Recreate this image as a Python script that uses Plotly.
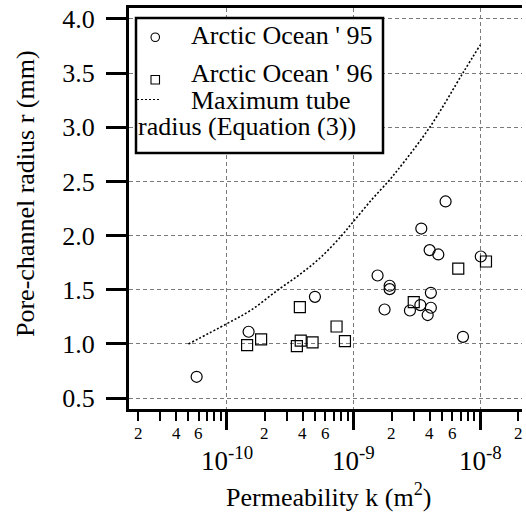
import plotly.graph_objects as go
import numpy as np

# Arctic Ocean '95 (circles)
k95 = [5.33e-9, 3.43e-9, 3.99e-9, 4.67e-9, 1.01e-8, 1.55e-9, 1.93e-9, 1.93e-9, 4.08e-9,
       4.97e-10, 1.76e-9, 2.79e-9, 3.37e-9, 4.08e-9, 3.85e-9, 7.31e-9, 1.49e-10, 5.8e-11]
r95 = [2.315, 2.065, 1.866, 1.826, 1.807, 1.632, 1.537, 1.506, 1.472,
       1.435, 1.318, 1.309, 1.359, 1.334, 1.267, 1.066, 1.113, 0.697]

# Arctic Ocean '96 (squares)
k96 = [1.45e-10, 1.87e-10, 3.58e-10, 3.84e-10, 3.78e-10, 4.76e-10, 7.36e-10, 8.57e-10,
       2.99e-9, 6.71e-9, 1.11e-8]
r96 = [0.990, 1.042, 0.981, 1.030, 1.340, 1.014, 1.161, 1.027, 1.387, 1.696, 1.761]

# Maximum tube radius (Equation (3))
kc = [5.0e-11, 1e-10, 1.57e-10, 2.55e-10, 3.9e-10, 5.61e-10, 8.07e-10, 1e-9, 1.39e-9,
      1.88e-9, 2.25e-9, 4e-9, 7.34e-9, 1e-8]
rc = [1.0, 1.186, 1.315, 1.5, 1.654, 1.807, 2.0, 2.13, 2.33, 2.5, 2.61, 3.0, 3.505, 3.76]

y_ticks = [0.5, 1.0, 1.5, 2.0, 2.5, 3.0, 3.5, 4.0]
major_x = [1e-10, 1e-9, 1e-8]
major_labels = ["10<sup>-10</sup>", "10<sup>-9</sup>", "10<sup>-8</sup>"]
minor_label_vals = [2e-11, 4e-11, 6e-11, 2e-10, 4e-10, 6e-10, 2e-9, 4e-9, 6e-9, 2e-8]
minor_label_text = ["2", "4", "6", "2", "4", "6", "2", "4", "6", "2"]

FONT = "Liberation Serif, Times New Roman, serif"
W, H = 526, 517
L, R, T, B = 129, 4, 8, 108
PW, PH = W - L - R, H - T - B
xr = [-10.770, -10.770 + PW / 126.8]
yr = [0.40, 4.10]


def px2x(px):
    return (px - L) / PW


def py2y(py):
    return (H - B - py) / PH


minor_ticks = []
for e in range(-11, -7):
    for m in range(2, 10):
        v = m * 10.0 ** e
        if 10 ** xr[0] <= v <= 10 ** xr[1]:
            minor_ticks.append(v)

fig = go.Figure()
fig.add_trace(go.Scatter(x=kc, y=rc, mode="lines", line_shape="spline",
                         line=dict(color="black", width=1.6, dash="2px,2px"),
                         showlegend=False))
fig.add_trace(go.Scatter(x=k95, y=r95, mode="markers",
                         marker=dict(symbol="circle-open", size=11, color="black",
                                     line=dict(width=1.2, color="black")),
                         showlegend=False))
fig.add_trace(go.Scatter(x=k96, y=r96, mode="markers",
                         marker=dict(symbol="square-open", size=11, color="black",
                                     line=dict(width=1.2, color="black")),
                         showlegend=False))

fig.update_layout(
    width=W, height=H, margin=dict(l=L, r=R, t=T, b=B),
    paper_bgcolor="white", plot_bgcolor="white",
    font=dict(family=FONT, size=26, color="black"),
    xaxis=dict(type="log", range=xr, showline=True, linecolor="black", linewidth=3,
               mirror=True, ticks="outside", tickvals=major_x, ticklen=18, tickwidth=3,
               tickcolor="black", showticklabels=False,
               showgrid=True, gridcolor="#7a7a7a", gridwidth=1, griddash="4px,3px",
               zeroline=False,
               minor=dict(tickvals=minor_ticks, ticks="outside", ticklen=9, tickwidth=2,
                          tickcolor="black", showgrid=False)),
    yaxis=dict(range=yr, showline=True, linecolor="black", linewidth=3,
               ticks="outside", tickvals=y_ticks, ticktext=[f"{v:.1f}" for v in y_ticks],
               ticklen=20, tickwidth=3, tickcolor="black", ticklabelstandoff=6,
               tickfont=dict(family=FONT, size=26),
               showgrid=True, gridcolor="#7a7a7a", gridwidth=1, griddash="4px,3px",
               zeroline=False),
)

ann = []
for v, t in zip(minor_label_vals, minor_label_text):
    xp = (np.log10(v) - xr[0]) / (xr[1] - xr[0])
    ann.append(dict(x=xp, y=py2y(433), xref="paper", yref="paper", text=t,
                    showarrow=False, xanchor="center", yanchor="middle",
                    font=dict(family=FONT, size=17)))
for v, t in zip(major_x, major_labels):
    xp = (np.log10(v) - xr[0]) / (xr[1] - xr[0])
    ann.append(dict(x=xp, y=py2y(478), xref="paper", yref="paper", text=t,
                    showarrow=False, xanchor="center", yanchor="bottom",
                    font=dict(family=FONT, size=27)))
ann.append(dict(x=px2x(329), y=py2y(514), xref="paper", yref="paper",
                text="Permeability k (m<sup>2</sup>)", showarrow=False,
                xanchor="center", yanchor="bottom", font=dict(family=FONT, size=26)))
ann.append(dict(x=px2x(25), y=py2y(194), xref="paper", yref="paper",
                text="Pore-channel radius r (mm)", showarrow=False, textangle=-90,
                xanchor="center", yanchor="middle", font=dict(family=FONT, size=26)))

# legend texts
leg_rows = [("Arctic Ocean ' 95", 189, 36), ("Arctic Ocean ' 96", 189, 74),
            ("Maximum tube", 189, 100), ("radius (Equation (3))", 136, 126)]
for t, x0, yc in leg_rows:
    ann.append(dict(x=px2x(x0), y=py2y(yc), xref="paper", yref="paper", text=t,
                    showarrow=False, xanchor="left", yanchor="middle",
                    font=dict(family=FONT, size=26)))

shapes = [
    dict(type="rect", xref="paper", yref="paper", x0=px2x(136), x1=px2x(383),
         y0=py2y(153), y1=py2y(18), line=dict(color="black", width=2.5),
         fillcolor="white", layer="above"),
    dict(type="circle", xref="paper", yref="paper", x0=px2x(151), x1=px2x(159.5),
         y0=py2y(41.5), y1=py2y(33), line=dict(color="black", width=1.1)),
    dict(type="rect", xref="paper", yref="paper", x0=px2x(151), x1=px2x(159.5),
         y0=py2y(84), y1=py2y(75.5), line=dict(color="black", width=1.1)),
    dict(type="line", xref="paper", yref="paper", x0=px2x(137), x1=px2x(160),
         y0=py2y(99.5), y1=py2y(99.5), line=dict(color="black", width=1.2, dash="2px,2px")),
]
fig.update_layout(annotations=ann, shapes=shapes)

fig.write_html("out.html")
